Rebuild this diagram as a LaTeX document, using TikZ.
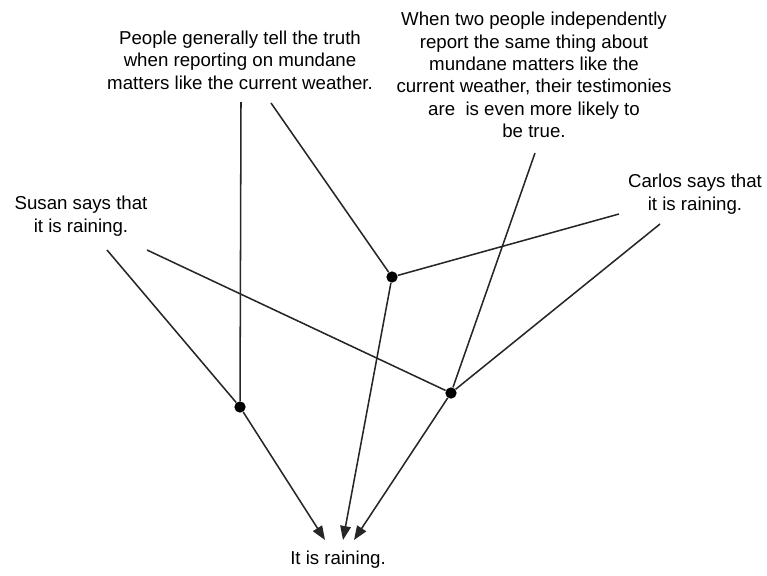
\documentclass[tikz,border=0pt]{standalone}
\usepackage{fontspec}
\setmainfont{Liberation Sans}
\usetikzlibrary{arrows.meta}

\tikzset{
  claim/.style={align=center,inner sep=0pt,font=\fontsize{14}{16.8}\selectfont},
  joint/.style={circle,fill=black,inner sep=0pt,minimum size=8.5pt},
  wire/.style={black!85,line width=1.15pt},
  towire/.style={wire,-{Triangle[length=10.5pt,width=8pt]}}
}

\begin{document}
\begin{tikzpicture}[x=0.75pt,y=-0.75pt]
  \useasboundingbox (0,0) rectangle (767,575);
  \node[claim] (truth) at (240,60) {People generally tell the truth\\when reporting on mundane\\matters like the current weather.};
  \node[claim] (twice) at (534,75) {When two people independently\\report the same thing about\\mundane matters like the\\current weather, their testimonies\\are\ \ is even more likely to\\be true.};
  \node[claim] (susan) at (81,216) {Susan says that\\it is raining.};
  \node[claim] (carlos) at (695,194) {Carlos says that\\it is raining.};
  \node[claim] (rain) at (338,560) {It is raining.};
  \node[joint] (ja) at (240,407) {};
  \node[joint] (jb) at (392,277) {};
  \node[joint] (jc) at (451,393) {};
  \coordinate (t1) at (241,102);
  \coordinate (t2) at (271,103);
  \coordinate (w1) at (535,153);
  \coordinate (s1) at (107,250);
  \coordinate (s2) at (147,250);
  \coordinate (c1) at (619,214);
  \coordinate (c2) at (660,224);
  \coordinate (ea) at (325,540);
  \coordinate (eb) at (343,540);
  \coordinate (ec) at (354,540);
  \draw[wire] (t1) -- (ja);
  \draw[wire] (s1) -- (ja);
  \draw[wire] (t2) -- (jb);
  \draw[wire] (c1) -- (jb);
  \draw[wire] (s2) -- (jc);
  \draw[wire] (c2) -- (jc);
  \draw[wire] (w1) -- (jc);
  \draw[towire] (ja) -- (ea);
  \draw[towire] (jb) -- (eb);
  \draw[towire] (jc) -- (ec);
\end{tikzpicture}
\end{document}
